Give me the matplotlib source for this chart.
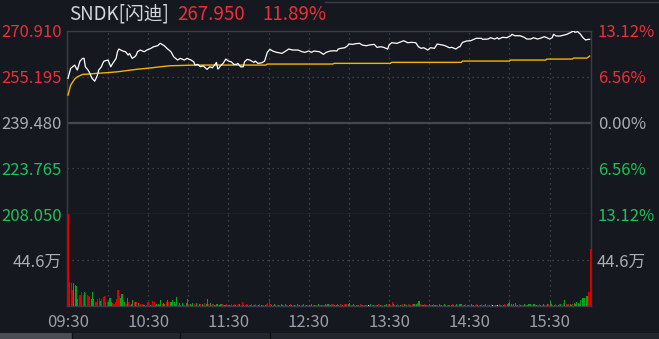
import matplotlib.pyplot as plt
from matplotlib.patches import Rectangle
from matplotlib.lines import Line2D

plt.rcParams['font.family'] = ['Noto Sans CJK SC', 'DejaVu Sans']

BG = '#15181e'
RED = '#ec2f3a'
GREEN = '#1fc15a'
GREY = '#a9adb4'
FRAME = '#3a3d44'
DOT = '#4a4d55'

# price ticks (left) and change ticks (right)
levels = [208.050, 223.765, 239.480, 255.195, 270.910]
level_labels = ['208.050', '223.765', '239.480', '255.195', '270.910']
pct_labels = ['13.12%', '6.56%', '0.00%', '6.56%', '13.12%']
level_colors = [GREEN, GREEN, GREY, RED, RED]

time_ticks = [0, 60, 120, 180, 240, 300, 360]
time_labels = ['09:30', '10:30', '11:30', '12:30', '13:30', '14:30', '15:30']

# price line: minute since 09:30, price
price_min = [0, 2, 5, 6, 7, 9, 11, 12, 13, 15, 16, 18, 20, 21, 22, 23, 25, 26, 27, 30,
             31, 32, 33, 36, 37, 38, 41, 43, 45, 46, 48, 50, 51, 52, 54, 57, 59, 62, 64, 67,
             69, 72, 74, 77, 79, 82, 84, 87, 89, 92, 94, 95,
             97, 99, 101, 104, 106, 108, 110, 111, 112, 113, 114, 116, 118, 120, 122, 124, 126, 127,
             129, 131, 132, 134, 136, 139, 140, 142, 145, 147, 148, 149, 151, 153, 156, 160, 162, 165,
             168, 172, 175, 177, 180, 182, 184, 188, 191, 193, 196,
             199, 201, 202, 204, 207, 209, 210, 213, 215, 218, 220, 223, 225, 229, 231, 234, 236, 239,
             240, 242, 246, 251, 254, 257, 260, 262, 264, 266, 269, 271, 274, 276, 280, 282, 285, 287,
             290, 292, 293, 294, 295,
             298, 301, 304, 305, 309, 310, 314, 316, 319, 321, 322, 325, 328, 331, 332, 334, 338, 341,
             343, 346, 348, 351, 353, 356, 358, 360, 362, 363, 365, 368, 371, 373, 376, 378, 379, 381,
             383, 385, 387, 389, 390]
price_val = [254.58, 258.01, 259.14, 258.22, 257.43, 260.51, 261.44, 261.44, 258.56, 257.43,
             256.64, 254.58, 253.65, 254.58, 255.71, 257.43, 258.56, 259.73, 260.51, 260.86,
             259.73, 258.56, 259.38, 261.44, 263.71, 264.63, 263.95, 263.71, 262.57, 263.16,
             261.44, 261.99, 262.57, 263.71, 264.29, 263.71, 264.29, 264.87, 265.42, 265.76,
             266.59, 265.76, 264.87, 263.71, 261.99, 260.86, 261.44, 260.86, 261.44, 260.86,
             260.27, 259.14,
             259.38, 258.56, 258.90, 257.67, 258.56, 258.22, 259.38, 260.07, 257.77, 258.22,
             258.90, 259.73, 261.20, 260.51, 260.27, 259.38, 259.38, 259.73, 258.56, 258.56,
             260.27, 261.10, 260.86, 260.07, 260.51, 259.73, 259.93, 260.51, 261.99, 263.50,
             264.53, 263.95, 263.50, 263.16, 263.71, 264.63, 264.29, 264.29, 263.71, 263.50,
             263.95, 263.50, 263.95, 263.71, 262.81, 263.50, 263.95,
             264.05, 263.95, 264.63, 264.87, 265.08, 265.76, 266.35, 266.24, 266.45, 266.59,
             266.00, 265.76, 266.00, 266.24, 265.21, 265.42, 265.21, 264.63, 266.00, 266.79,
             266.59, 267.48, 266.79, 266.93, 266.79, 265.42, 264.87, 265.08, 264.29, 265.08,
             264.87, 266.35, 266.00, 265.76, 265.08, 265.21, 264.63, 265.32, 265.42, 266.24,
             266.93,
             267.38, 267.48, 268.06, 268.30, 268.30, 267.96, 268.06, 268.51, 268.06, 268.51,
             268.06, 268.65, 268.51, 269.19, 269.67, 269.19, 269.19, 268.65, 268.06, 268.06,
             268.51, 268.06, 268.30, 268.85, 268.51, 268.06, 268.51, 269.67, 269.09, 269.09,
             269.43, 269.67, 270.36, 270.81, 270.36, 270.57, 269.78, 268.51, 267.72, 267.96,
             267.95]

# average price line
avg_min = [0, 2, 5, 7, 11, 15, 21, 28, 37, 51, 63, 69, 76, 95, 148, 149, 198, 199, 241, 242,
           294, 295, 330, 331, 357, 358, 377, 378, 388, 390]
avg_val = [248.85, 252.28, 254.34, 255.13, 255.95, 256.05, 256.29, 256.50, 256.84, 257.67,
           258.22, 258.56, 258.90, 259.14, 259.14, 259.49, 259.49, 259.73, 259.73, 260.07,
           260.07, 260.51, 260.51, 260.86, 260.86, 261.20, 261.20, 261.54, 261.54, 262.23]

# volume per minute, in 万 shares
vol = [89.2, 23.3, 22.3, 15.1, 22.3, 20.7, 19.4, 6.9, 10.8, 10.8,
       14.1, 10.8, 14.1, 12.5, 10.8, 10.2, 8.5, 6.9, 13.5, 6.9,
       3.6, 4.3, 6.9, 7.5, 5.3, 6.9, 8.5, 10.2, 4.3, 3.6,
       4.3, 7.5, 3.6, 2.6, 2.0, 3.6, 6.9, 15.8, 10.2, 7.5,
       11.8, 5.9, 3.6, 2.0, 7.5, 4.3, 1.0, 2.0, 5.9, 4.3,
       3.6, 4.3, 3.0, 1.0, 2.0, 2.0, 1.3, 1.0, 1.3, 3.6,
       4.3, 1.0, 1.3, 5.3, 4.3, 1.0, 2.0, 2.0, 1.0, 6.2,
       2.0, 3.0, 2.0, 3.6, 6.2, 4.3, 3.6, 4.3, 5.9, 4.3,
       2.0, 8.5, 1.3, 2.6, 1.0, 3.0, 2.0, 1.3, 2.6, 6.9,
       1.5, 2.3, 1.0, 3.2, 2.0, 1.3, 2.6, 1.0, 2.0, 1.6,
       2.3, 1.3, 3.0, 2.0, 6.9, 1.6, 2.6, 1.0, 2.0, 1.3,
       1.0, 2.0, 1.3, 0.7, 1.6, 2.3, 1.0, 1.3, 2.0, 1.0,
       1.3, 0.7, 1.6, 1.0, 2.0, 1.3, 0.7, 1.6, 2.3, 1.0,
       4.2, 1.3, 1.0, 1.6, 0.7, 1.3, 1.0, 2.0, 1.3, 0.7,
       1.6, 1.0, 1.3, 2.0, 1.0, 0.7, 1.3, 1.0, 1.6, 3.0,
       6.6, 2.3, 1.3, 1.0, 1.6, 1.3, 0.7, 1.3, 1.0, 2.0,
       1.3, 1.0, 1.6, 0.7, 1.3, 1.0, 2.0, 1.3, 0.7, 1.3,
       1.0, 1.6, 1.3, 0.7, 1.0, 1.3, 2.0, 1.0, 1.3, 0.7,
       1.3, 1.0, 1.6, 1.3, 0.7, 1.0, 1.3, 1.6, 1.0, 0.7,
       1.3, 1.0, 1.6, 1.3, 2.0, 1.0, 1.3, 1.6, 2.3, 1.3,
       1.0, 1.6, 1.3, 2.0, 1.3, 1.0, 1.6, 1.3, 2.0, 1.6,
       2.6, 1.3, 1.0, 1.6, 1.3, 0.7, 1.0, 1.3, 1.6, 1.0,
       1.3, 1.0, 0.7, 1.3, 1.0, 1.3, 1.6, 1.0, 0.7, 1.3,
       1.0, 1.3, 1.6, 1.0, 1.3, 0.7, 1.0, 1.3, 1.6, 2.0,
       1.6, 1.3, 4.3, 1.6, 1.3, 1.0, 1.6, 1.3, 1.0, 1.3,
       1.6, 2.0, 1.3, 1.0, 1.6, 1.3, 1.0, 1.6, 2.0, 2.3,
       2.0, 2.6, 5.3, 1.6, 1.3, 1.0, 1.6, 1.3, 1.0, 1.3,
       1.6, 1.0, 1.3, 1.6, 1.0, 1.3, 1.0, 1.6, 1.3, 1.0,
       1.3, 1.6, 1.0, 1.3, 1.0, 0.7, 1.3, 1.6, 1.0, 1.3,
       1.6, 1.3, 2.0, 1.6, 2.3, 1.3, 1.0, 1.6, 1.3, 1.0,
       1.3, 1.6, 1.0, 1.3, 1.0, 1.6, 1.3, 1.0, 1.3, 1.6,
       1.0, 1.3, 1.6, 1.0, 1.3, 1.0, 1.6, 1.3, 1.0, 1.3,
       1.3, 1.0, 1.6, 1.3, 1.0, 1.3, 1.6, 1.3, 2.0, 2.6,
       4.3, 2.0, 1.3, 1.6, 2.6, 1.3, 1.0, 1.6, 1.3, 1.0,
       1.3, 1.6, 1.0, 1.3, 2.0, 1.6, 1.3, 1.0, 1.6, 1.3,
       1.0, 1.3, 1.6, 1.3, 1.0, 1.6, 1.3, 1.0, 1.6, 2.0,
       5.0, 1.6, 1.3, 1.0, 1.6, 1.3, 1.0, 1.6, 2.0, 1.3,
       2.6, 5.9, 1.6, 1.3, 2.0, 1.6, 1.3, 2.0, 2.6, 1.6,
       4.2, 3.0, 2.0, 5.5, 7.6, 8.2, 8.2, 9.8, 9.5, 14.1, 55.8]
# r = up minute, g = down minute, w = flat
vol_dir = ("rrrrggggrr" "rrgrrrrggg" "rrrrgrrrrr" "gggrrrrrrg" "grgrgrrggr"
           "grgrrrggrr" "rgrrrggggg" "rggrgrgggg" "ggrgrgrrgg" "rgrgrrgrgr"
           "grrggrgrrg" "rgrggrrgrr" "grrgrgrrgr" "rgrrgrgrrg" "rrgrgrrgrr"
           "rrgrgrrgrg" "grgrrgrgrg" "rgrgrrgrgr" "grgrgrrgrg" "rrgrgrgrrg"
           "grgrrgrgrg" "grrgrgrgrr" "grgrwrgrgr" "rgrgrrgrgr" "grrgrgrrgr"
           "rgrgrrgrgg" "grgrrgrgrr" "grgrgrrgrg" "rgrrgrgrgr" "grgggrgrrg"
           "rgrgrrgrgr" "grgrrgrwrg" "rwrgrgrrgg" "ggrggrgrgr" "rgrgggrrgr"
           "grrgrgrrgr" "ggrgrrgrgr" "rgrgrggrgg" "gggggggggrr")

bar_colors = {'r': '#e00000', 'g': '#00a819', 'w': '#ffffff'}

fig = plt.figure(figsize=(6.59, 3.39), dpi=100, facecolor=BG)
W, H = 659.0, 339.0
left, right = 67.3, 591.0

ax = fig.add_axes([left / W, 1 - 214.3 / H, (right - left) / W, (214.3 - 30.7) / H])
vx = fig.add_axes([left / W, 1 - 306 / H, (right - left) / W, (306 - 214.3) / H])

for a in (ax, vx):
    a.set_facecolor(BG)
    a.set_xlim(-0.5, 391)
    for s in a.spines.values():
        s.set_color(FRAME)
        s.set_linewidth(1)
    for m in range(30, 390, 30):
        a.axvline(m, color=DOT, lw=0.9, ls=(0, (1, 3)), zorder=0)

# price panel
ax.set_ylim(levels[0], levels[-1])
for lv in (levels[1], levels[3]):
    ax.axhline(lv, color=DOT, lw=0.9, ls=(0, (1, 3)), zorder=0)
ax.axhline(levels[2], color='#45484f', lw=1.6, zorder=1)
ax.plot(avg_min, avg_val, color='#f4b400', lw=1.0, zorder=3)
ax.plot(price_min, price_val, color='white', lw=0.9, zorder=4)
ax.set_yticks(levels, level_labels)
ax.tick_params(axis='y', length=0, pad=4, labelsize=12)
ax.tick_params(axis='x', length=0, labelbottom=False)
for t, c in zip(ax.get_yticklabels(), level_colors):
    t.set_color(c)

axr = ax.twinx()
axr.set_ylim(levels[0], levels[-1])
axr.set_yticks(levels, pct_labels)
axr.tick_params(axis='y', length=0, pad=5, labelsize=12)
for s in axr.spines.values():
    s.set_visible(False)
for t, c in zip(axr.get_yticklabels(), level_colors):
    t.set_color(c)

# volume panel
vx.spines['top'].set_visible(False)
vx.bar(range(len(vol)), vol, width=0.8, align='edge',
       color=[bar_colors[c] for c in vol_dir], zorder=3)
vx.set_ylim(0, 89.2)
vx.axhline(44.6, color=DOT, lw=0.9, ls=(0, (1, 3)), zorder=0)
vx.set_yticks([44.6], ['44.6万'])
vx.tick_params(axis='y', length=0, pad=4, labelsize=12, labelcolor=GREY,
               labelleft=True, labelright=True)
vx.set_xticks(time_ticks, time_labels)
vx.tick_params(axis='x', length=0, pad=6, labelsize=12, labelcolor='#9a9ea6')

# header
fig.text(69 / W, 1 - 14 / H, 'SNDK[闪迪]', color='#d3d7dd', fontsize=13.5, va='center')
fig.text(177 / W, 1 - 14 / H, '267.950', color=RED, fontsize=13.5, va='center')
fig.text(262 / W, 1 - 14 / H, '11.89%', color=RED, fontsize=13.5, va='center')
fig.add_artist(Line2D([325 / W, 1], [1 - 1.5 / H] * 2, color=FRAME, lw=1))

# bottom tab strip
fig.add_artist(Rectangle((0, 0), 1, 6 / H, transform=fig.transFigure, color='#23262c', lw=0))
fig.add_artist(Rectangle((0, 0), 72 / W, 6 / H, transform=fig.transFigure, color='#4a4d54', lw=0))
for xs in (72, 180, 270):
    fig.add_artist(Line2D([xs / W] * 2, [0, 6 / H], color='#0e1014', lw=1))

fig.savefig('out.png', dpi=100, facecolor=BG)
